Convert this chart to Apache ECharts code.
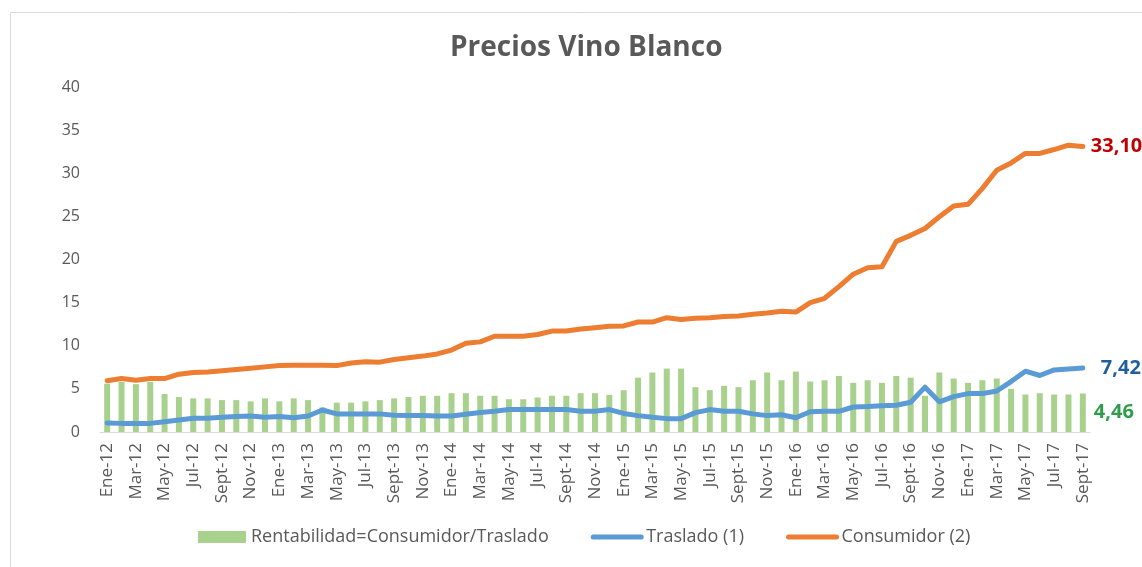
<!DOCTYPE html>
<html>
<head>
<meta charset="utf-8">
<script src="https://cdn.jsdelivr.net/npm/echarts@6/dist/echarts.min.js"></script>
<style>html,body{margin:0;padding:0;background:#fff;}#c{width:1142px;height:567px;}</style>
</head>
<body>
<div id="c"></div>
<script>
const categories = [
 'Ene-12','Feb-12','Mar-12','Abr-12','May-12','Jun-12','Jul-12','Ago-12','Sept-12','Oct-12','Nov-12','Dic-12',
 'Ene-13','Feb-13','Mar-13','Abr-13','May-13','Jun-13','Jul-13','Ago-13','Sept-13','Oct-13','Nov-13','Dic-13',
 'Ene-14','Feb-14','Mar-14','Abr-14','May-14','Jun-14','Jul-14','Ago-14','Sept-14','Oct-14','Nov-14','Dic-14',
 'Ene-15','Feb-15','Mar-15','Abr-15','May-15','Jun-15','Jul-15','Ago-15','Sept-15','Oct-15','Nov-15','Dic-15',
 'Ene-16','Feb-16','Mar-16','Abr-16','May-16','Jun-16','Jul-16','Ago-16','Sept-16','Oct-16','Nov-16','Dic-16',
 'Ene-17','Feb-17','Mar-17','Abr-17','May-17','Jun-17','Jul-17','Ago-17','Sept-17'
];
const rentabilidad = [
 5.6,5.8,5.55,5.8,4.4,4.05,3.9,3.9,3.7,3.7,
 3.55,3.9,3.55,3.9,3.7,2.85,3.4,3.4,3.55,3.7,
 3.9,4.05,4.2,4.2,4.5,4.5,4.2,4.2,3.8,3.8,
 4.0,4.2,4.2,4.5,4.5,4.3,4.85,6.3,6.9,7.35,
 7.35,5.2,4.85,5.35,5.2,6.0,6.9,6.0,7.0,5.85,
 6.0,6.5,5.7,6.0,5.7,6.5,6.3,4.2,6.9,6.2,
 5.7,6.0,6.2,5.0,4.35,4.5,4.35,4.35,4.46
];
const traslado = [
 1.05,1.0,1.0,1.0,1.2,1.4,1.6,1.6,1.7,1.8,
 1.85,1.7,1.8,1.65,1.85,2.55,2.1,2.1,2.1,2.1,
 1.93,1.9,1.9,1.85,1.85,2.05,2.25,2.4,2.6,2.6,
 2.6,2.6,2.6,2.4,2.4,2.6,2.15,1.9,1.7,1.55,
 1.55,2.25,2.6,2.4,2.4,2.1,1.9,2.0,1.65,2.35,
 2.4,2.4,2.9,2.95,3.05,3.1,3.45,5.2,3.5,4.1,
 4.45,4.45,4.75,5.85,7.05,6.55,7.2,7.3,7.42
];
const consumidor = [
 5.95,6.2,6.0,6.2,6.2,6.7,6.9,6.95,7.1,7.25,
 7.4,7.55,7.7,7.75,7.75,7.75,7.7,8.0,8.15,8.1,
 8.4,8.6,8.8,9.05,9.5,10.3,10.45,11.1,11.1,11.1,
 11.3,11.7,11.7,11.95,12.1,12.25,12.3,12.75,12.75,13.25,
 13.05,13.2,13.25,13.4,13.45,13.65,13.8,14.0,13.9,15.0,
 15.5,16.85,18.3,19.05,19.15,22.1,22.8,23.6,24.95,26.2,
 26.4,28.25,30.35,31.2,32.3,32.3,32.75,33.25,33.10
];
const yTicks = { min: 0, max: 40, interval: 5 };

function fmt(v){ return Number(v).toFixed(2).replace('.', ','); }
const endFont = { fontSize: 20, fontWeight: 'bold', fontFamily: 'Open Sans' };

const chart = echarts.init(document.getElementById('c'), null, {renderer:'canvas'});
const grey = '#595959';
chart.setOption({
  animation: false,
  backgroundColor: '#fff',
  textStyle: { fontFamily: 'Open Sans' },
  graphic: [{
    type: 'rect', left: 8, top: 10, shape: { width: 1200, height: 620 },
    style: { fill: 'none', stroke: '#d9d9d9', lineWidth: 1 }, silent: true
  }],
  title: {
    text: 'Precios Vino Blanco', left: 445, top: 29,
    textStyle: { color: grey, fontSize: 28, fontWeight: 'bold', fontFamily: 'Open Sans' }
  },
  legend: {
    bottom: 16, left: 193,
    itemWidth: 48, itemHeight: 12, itemGap: 42,
    lineStyle: { width: 5 },
    textStyle: { color: grey, fontSize: 18, fontFamily: 'Open Sans' },
    data: [
      { name: 'Rentabilidad=Consumidor/Traslado', icon: 'rect' },
      { name: 'Traslado (1)', itemStyle: { opacity: 0 } },
      { name: 'Consumidor (2)', itemStyle: { opacity: 0 } }
    ]
  },
  grid: { left: 100, right: 52, top: 87, bottom: 135 },
  xAxis: {
    type: 'category', data: categories, boundaryGap: true,
    axisLine: { lineStyle: { color: '#d9d9d9' } },
    axisTick: { show: false },
    axisLabel: { rotate: 90, interval: 1, color: grey, fontSize: 17, margin: 11, fontFamily: 'Open Sans' }
  },
  yAxis: {
    type: 'value', min: yTicks.min, max: yTicks.max, interval: yTicks.interval,
    splitLine: { show: false }, axisLine: { show: false }, axisTick: { show: false },
    axisLabel: { color: grey, fontSize: 16, margin: 20, fontFamily: 'Open Sans' }
  },
  series: [
    {
      name: 'Rentabilidad=Consumidor/Traslado', type: 'bar', barWidth: 6,
      itemStyle: { color: '#A9D18E' },
      data: rentabilidad.map((v, i) => i === rentabilidad.length - 1 ? {
        value: v,
        label: Object.assign({ show: true, position: 'right', distance: 8, color: '#2E9E4A',
          formatter: p => fmt(p.value) }, endFont)
      } : v),
      z: 1
    },
    {
      name: 'Traslado (1)', type: 'line', symbol: 'none',
      lineStyle: { color: '#5B9BD5', width: 5, cap: 'round', join: 'round' },
      itemStyle: { color: '#5B9BD5' },
      endLabel: Object.assign({ show: true, distance: 18, color: '#1F5F9E',
        formatter: p => fmt(p.value) }, endFont),
      data: traslado, z: 3
    },
    {
      name: 'Consumidor (2)', type: 'line', symbol: 'none',
      lineStyle: { color: '#ED7D31', width: 5, cap: 'round', join: 'round' },
      itemStyle: { color: '#ED7D31' },
      endLabel: Object.assign({ show: true, distance: 8, color: '#C00000',
        formatter: p => fmt(p.value) }, endFont),
      data: consumidor, z: 4
    }
  ]
});
</script>
</body>
</html>
